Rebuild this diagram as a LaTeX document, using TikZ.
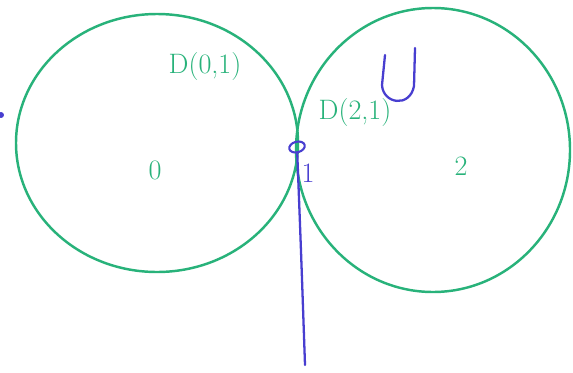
\documentclass[tikz,border=0pt]{standalone}
\usepackage{tikz}
\usetikzlibrary{shapes.geometric}

\definecolor{discgreen}{RGB}{40,178,122}
\definecolor{penblue}{RGB}{72,62,208}

\begin{document}
\begin{tikzpicture}[x=0.02cm, y=-0.02cm,
    disc/.style={draw=discgreen, line width=1.4pt},
    pen/.style={draw=penblue, line width=1.3pt, line cap=round},
    lbl/.style={text=discgreen, font=\fontsize{16}{16}\selectfont, inner sep=1pt}]
  \useasboundingbox (0,0) rectangle (573,372);
  % The two discs D(0,1) and D(2,1)
  \draw[disc] (157,143) ellipse [x radius=141, y radius=129];
  \draw[disc] (433,150) ellipse [x radius=137, y radius=142];
  % Labels
  \node[lbl] (d0) at (205,66) {D(0,1)};
  \node[lbl] (d2) at (355,112) {D(2,1)};
  \node[lbl] (c0) at (155,170) {0};
  \node[lbl] (c2) at (461,166) {2};
  % The point 1 and the set U
  \node[draw=penblue, line width=1.2pt, ellipse, minimum width=9pt, minimum height=6pt,
        inner sep=0pt, rotate=15] (one) at (297,147) {};
  \node[text=penblue, font=\fontsize{16}{16}\selectfont] (lone) at (308,173) {1};
  \coordinate (low) at (305,365);
  \draw[pen] (one) .. controls (301,250) .. (low);
  \draw[pen] (385,55) -- (382,85) .. controls (383,104) and (410,108) .. (414,86) -- (415,48);
  \node[circle, fill=penblue, inner sep=1.2pt] (dot) at (1,115) {};
\end{tikzpicture}
\end{document}
